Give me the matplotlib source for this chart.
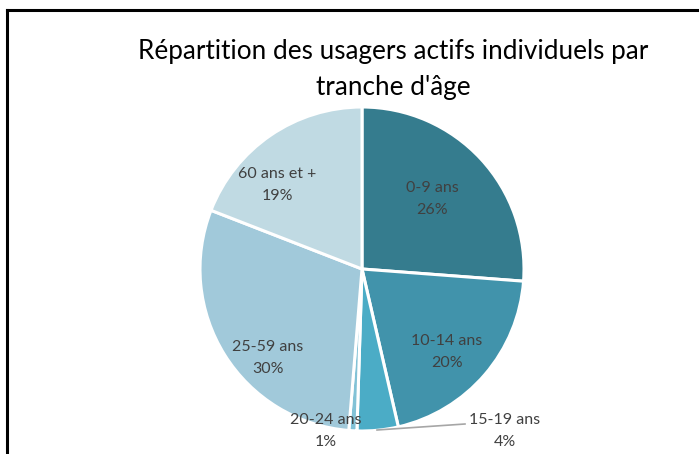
import matplotlib
matplotlib.use("Agg")
import matplotlib.pyplot as plt
from matplotlib.lines import Line2D

categories = ["0-9 ans", "10-14 ans", "15-19 ans", "20-24 ans", "25-59 ans", "60 ans et +"]
values = [26.2, 20.2, 4.1, 0.8, 29.6, 19.1]
pct_labels = ["26%", "20%", "4%", "1%", "30%", "19%"]
colors = ["#357C8E", "#4193AB", "#4BACC6", "#82C2D6", "#A1C9DA", "#C0DAE3"]
title = "Répartition des usagers actifs individuels par\ntranche d'âge"

W, H = 699, 454
fig = plt.figure(figsize=(W / 100, H / 100), dpi=100)
plt.rcParams['font.family'] = ['Lato', 'DejaVu Sans']

cx, cy, r = 362, 269, 162
ax = fig.add_axes([(cx - r) / W, (H - cy - r) / H, 2 * r / W, 2 * r / H])
wedges, _ = ax.pie(values, colors=colors, startangle=90, counterclock=False,
                   radius=1, wedgeprops=dict(edgecolor="white", linewidth=2.2))
ax.set_xlim(-1, 1)
ax.set_ylim(-1, 1)
ax.set_aspect("equal")
ax.axis("off")

def px(x, y):
    return ((x - (cx - r)) / (2 * r) * 2 - 1, 1 - (y - (cy - r)) / (2 * r) * 2)

label_pos = [(432, 199), (447, 352), (505, 431), (326, 431), (268, 358), (277, 185)]
for cat, pl, (x, y) in zip(categories, pct_labels, label_pos):
    X, Y = px(x, y)
    ax.text(X, Y, f"{cat}\n{pl}", ha="center", va="center", fontsize=11.5,
            color="#404040", linespacing=1.75, clip_on=False)

# leader line for 15-19
x1, y1 = px(377, 430)
x2, y2 = px(465, 424)
ax.plot([x1, x2], [y1, y2], color="#A6A6A6", lw=1.2, clip_on=False)

fig.text(393 / W, 1 - 70 / H, title, ha="center", va="center", fontsize=18.8,
         color="black", linespacing=1.55)

# frame
fig.add_artist(Line2D([7 / W, 7 / W], [0, 1 - 10 / H], color="black", lw=2.2,
                      transform=fig.transFigure))
fig.add_artist(Line2D([7 / W, 1], [1 - 10 / H, 1 - 10 / H], color="black", lw=2.2,
                      transform=fig.transFigure))

fig.savefig("out.png", dpi=100)
